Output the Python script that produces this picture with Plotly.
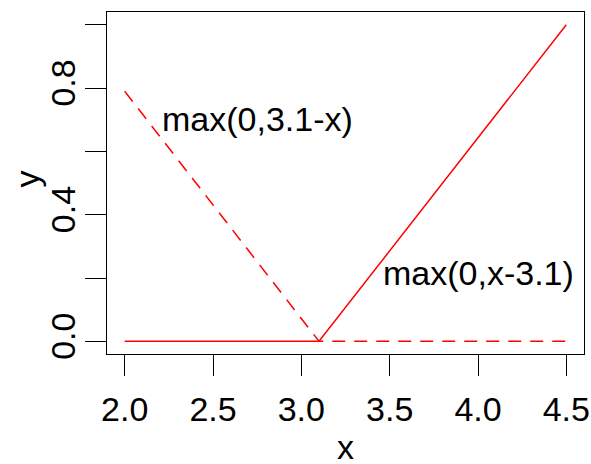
import plotly.graph_objects as go

# data
x_knots = [2.0, 3.1, 4.5]
y_right_hinge = [0.0, 0.0, 1.0]     # max(0, x-3.1), solid
y_left_hinge = [0.79, 0.0, 0.0]     # max(0, 3.1-x), dashed

x_tickvals = [2.0, 2.5, 3.0, 3.5, 4.0, 4.5]
x_ticktext = ["2.0", "2.5", "3.0", "3.5", "4.0", "4.5"]
y_tickvals = [0.0, 0.2, 0.4, 0.6, 0.8, 1.0]
y_ticktext = ["0.0", "", "0.4", "", "0.8", ""]

label_left = "max(0,3.1-x)"
label_right = "max(0,x-3.1)"

FONT = "Liberation Sans, Arial, sans-serif"
FS = 34
RED = "#ff0000"

fig = go.Figure()
fig.add_trace(go.Scatter(x=x_knots, y=y_right_hinge, mode="lines",
                         line=dict(color=RED, width=1.5), hoverinfo="skip"))
fig.add_trace(go.Scatter(x=x_knots, y=y_left_hinge, mode="lines",
                         line=dict(color=RED, width=1.5, dash="13px,9px"), hoverinfo="skip"))

fig.add_annotation(x=2.2, y=0.703, text=label_left, showarrow=False,
                   xanchor="left", yanchor="middle", font=dict(size=FS, color="black", family=FONT))
fig.add_annotation(x=4.0, y=0.215, text=label_right, showarrow=False,
                   xanchor="center", yanchor="middle", font=dict(size=FS, color="black", family=FONT))

# axis titles
fig.add_annotation(xref="paper", yref="paper", x=0, y=0.51, xshift=-80, text="y",
                   textangle=-90, showarrow=False, xanchor="center", yanchor="middle",
                   font=dict(size=FS, color="black", family=FONT))
fig.add_annotation(xref="paper", yref="paper", x=0.5, y=0, yshift=-93, text="x",
                   showarrow=False, xanchor="center", yanchor="middle",
                   font=dict(size=FS, color="black", family=FONT))

axis_common = dict(showgrid=False, zeroline=False, showline=True, mirror=True,
                   linecolor="black", linewidth=1.3, ticks="outside", ticklen=21,
                   tickwidth=1.3, tickcolor="black", automargin=False,
                   tickfont=dict(size=FS, color="black", family=FONT))

fig.update_xaxes(range=[1.9, 4.6], tickvals=x_tickvals, ticktext=x_ticktext,
                 ticklabelstandoff=4, **axis_common)
fig.update_yaxes(range=[-0.04, 1.04], tickvals=y_tickvals, ticktext=y_ticktext,
                 tickangle=-90, ticklabelstandoff=-4, **axis_common)

fig.update_layout(width=591, height=464, showlegend=False,
                  margin=dict(l=107, r=7, t=12, b=110),
                  paper_bgcolor="white", plot_bgcolor="white",
                  font=dict(family=FONT, color="black"))

fig.write_html("out.html", config={"displayModeBar": False},
               post_script="document.body.style.margin='0px';")
